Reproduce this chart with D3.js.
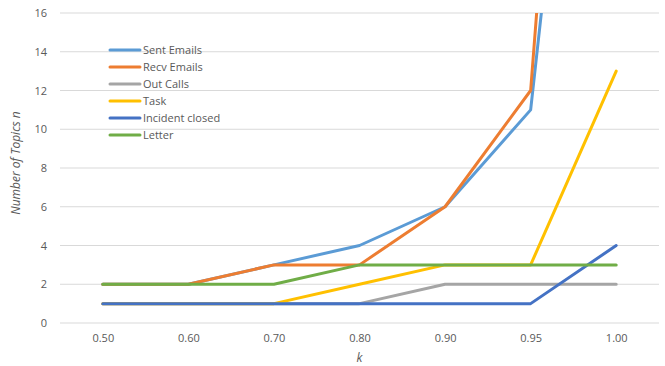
<!DOCTYPE html>
<html><head><meta charset="utf-8">
<script src="https://cdn.jsdelivr.net/npm/d3@7"></script>
<style>body{margin:0;background:#fff}svg{display:block}text{font-family:"Open Sans","Noto Sans",sans-serif}</style>
</head><body>
<svg id="c" width="665" height="366"></svg>
<script>
const categories = ["0.50","0.60","0.70","0.80","0.90","0.95","1.00"];
const seriesNames = ["Sent Emails","Recv Emails","Out Calls","Task","Incident closed","Letter"];
const sentEmails = [2,2,3,4,6,11,51];
const recvEmails = [2,2,3,3,6,12,69];
const outCalls = [1,1,1,1,2,2,2];
const task = [1,1,1,2,3,3,13];
const incidentClosed = [1,1,1,1,1,1,4];
const letter = [2,2,2,3,3,3,3];
const yTicks = [0,2,4,6,8,10,12,14,16];
const colors = ["#5B9BD5","#ED7D31","#A5A5A5","#FFC000","#4472C4","#70AD47"];

const allSeries = [sentEmails,recvEmails,outCalls,task,incidentClosed,letter];
const svg = d3.select("#c");
const pL = 60, pR = 659, pT = 13, pB = 323;
const x = d3.scalePoint().domain(categories).range([pL, pR]).padding(0.5);
const y = d3.scaleLinear().domain([0,16]).range([pB, pT]);

svg.append("defs").append("clipPath").attr("id","clip")
  .append("rect").attr("x",pL).attr("y",pT).attr("width",pR-pL).attr("height",pB-pT+5);

// gridlines
svg.append("g").selectAll("line").data(yTicks).join("line")
  .attr("x1",pL).attr("x2",pR)
  .attr("y1",d=>y(d)).attr("y2",d=>y(d))
  .attr("stroke","#d9d9d9").attr("stroke-width",1);

// y axis labels
const yAxis = svg.append("g").attr("transform",`translate(${pL-13},0)`)
  .call(d3.axisLeft(y).tickValues(yTicks).tickSize(0).tickPadding(0).tickFormat(d3.format("d")));
yAxis.select(".domain").remove();
yAxis.selectAll("text").attr("fill","#595959").style("font-size","11px").style("font-family",'"Open Sans",sans-serif');

// x axis labels
const xAxis = svg.append("g").attr("transform",`translate(0,${pB+11})`)
  .call(d3.axisBottom(x).tickSize(0).tickPadding(0));
xAxis.select(".domain").remove();
xAxis.selectAll("text").attr("fill","#595959").style("font-size","11px").style("font-family",'"Open Sans",sans-serif');

// lines
const line = d3.line().x((d,i)=>x(categories[i])).y(d=>y(d));
const g = svg.append("g").attr("clip-path","url(#clip)");
allSeries.forEach((s,i)=>{
  g.append("path").datum(s).attr("d",line).attr("fill","none")
    .attr("stroke",colors[i]).attr("stroke-width",3).attr("stroke-linejoin","round").attr("stroke-linecap","round");
});

// axis titles
svg.append("text").attr("transform",`translate(20,163) rotate(-90)`)
  .attr("text-anchor","middle").attr("fill","#595959").style("font-size","12px").style("font-style","italic")
  .text("Number of Topics n");
svg.append("text").attr("x",x("0.80")).attr("y",362).attr("text-anchor","middle")
  .attr("fill","#595959").style("font-size","12px").style("font-style","italic").text("k");

// legend
const leg = svg.append("g").attr("transform","translate(110,50)");
seriesNames.forEach((n,i)=>{
  const r = leg.append("g").attr("transform",`translate(0,${i*17})`);
  r.append("line").attr("x1",0).attr("x2",30).attr("y1",0).attr("y2",0)
    .attr("stroke",colors[i]).attr("stroke-width",3).attr("stroke-linecap","round");
  r.append("text").attr("x",33).attr("y",4).attr("fill","#595959").style("font-size","11px").text(n);
});
</script>
</body></html>
